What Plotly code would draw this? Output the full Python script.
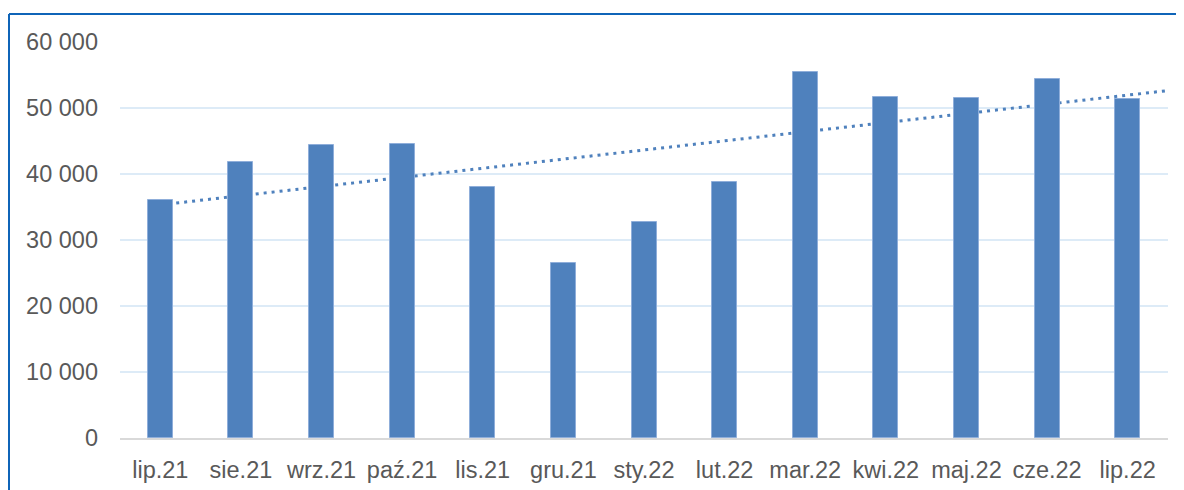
import numpy as np
import plotly.graph_objects as go

categories = ["lip.21", "sie.21", "wrz.21", "paź.21", "lis.21", "gru.21", "sty.22",
              "lut.22", "mar.22", "kwi.22", "maj.22", "cze.22", "lip.22"]
values = [36100, 41800, 44400, 44500, 38000, 26500, 32700,
          38800, 55500, 51700, 51500, 54400, 51400]
y_tick_values = [0, 10000, 20000, 30000, 40000, 50000, 60000]
y_tick_labels = ["0", "10 000", "20 000", "30 000", "40 000", "50 000", "60 000"]

idx = np.arange(len(categories))
slope, intercept = np.polyfit(idx, values, 1)
trend_x = np.array([0, len(categories) - 0.5])
trend_y = slope * trend_x + intercept

FONT = "Liberation Sans, Arial, sans-serif"
XR = [-0.5, len(categories) - 0.5]
YR = [0, 60000]

fig = go.Figure()
fig.add_trace(go.Scatter(
    x=trend_x, y=trend_y, mode="lines",
    line=dict(color="#4F81BD", width=3, dash="3px,5px"),
    xaxis="x", yaxis="y", showlegend=False, hoverinfo="skip"))
fig.add_trace(go.Bar(
    x=idx, y=values, width=0.31,
    marker=dict(color="#4F81BD", line=dict(color="#8FAEDA", width=1)),
    xaxis="x2", yaxis="y2", showlegend=False))

ML, MR, MT, MB = 112, 24, 34, 60
fig.update_layout(
    width=1184, height=490,
    margin=dict(l=ML, r=MR, t=MT, b=MB),
    paper_bgcolor="white", plot_bgcolor="white",
    font=dict(family=FONT, size=23.5, color="#595959"),
    xaxis=dict(range=XR, tickvals=list(idx), ticktext=categories,
               showgrid=False, zeroline=False, showline=True,
               linecolor="#D9D9D9", linewidth=2, ticks="",
               ticklabelstandoff=10, tickfont=dict(size=23.5, color="#595959")),
    yaxis=dict(range=YR, tickvals=y_tick_values, ticktext=y_tick_labels,
               showgrid=True, gridcolor="#DDEBF7", gridwidth=2,
               zeroline=False, showline=False, ticks="",
               ticklabelstandoff=21, tickfont=dict(size=23.5, color="#595959")),
    xaxis2=dict(range=XR, overlaying="x", anchor="y2", visible=False),
    yaxis2=dict(range=YR, overlaying="y", anchor="x2", visible=False),
    bargap=0,
)

# outer chart border (left and top edges visible)
px_w = 1184 - ML - MR
px_h = 490 - MT - MB
bx = (1 - ML) / px_w
bx_end = (1184 - ML) / px_w
by = (px_h + MT - 6) / px_h
fig.add_shape(type="line", xref="paper", yref="paper",
              x0=bx, x1=bx, y0=by, y1=-0.5,
              line=dict(color="#0F64B8", width=2))
fig.add_shape(type="line", xref="paper", yref="paper",
              x0=bx, x1=bx_end, y0=by, y1=by,
              line=dict(color="#0F64B8", width=2))

fig.write_html("out.html")
